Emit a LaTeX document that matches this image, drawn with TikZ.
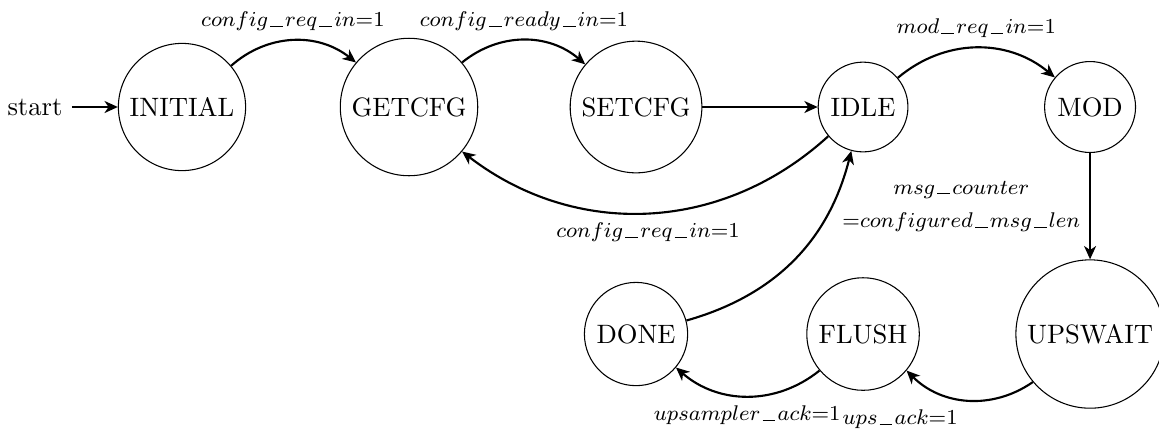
\documentclass[tikz,border=0pt]{standalone}
\usetikzlibrary{arrows.meta}
% long underscore used inside the italic signal names
\newcommand\us{\kern0.1em\rule[-0.05ex]{0.6em}{0.4pt}\kern0.1em}
\begin{document}
\begin{tikzpicture}[
  state/.style={circle,draw,thin},
  trans/.style={thick,-{Stealth[length=5pt,width=4.5pt,inset=1.5pt]}},
  lbl/.style={font=\footnotesize}
]
\useasboundingbox (-2.405,1.414) rectangle (12.911,-4.242);

% states
\node[state] (init)    at (0,0)   {INITIAL};
\node[state] (getcfg)  at (3,0)   {GETCFG};
\node[state] (setcfg)  at (6,0)   {SETCFG};
\node[state] (idle)    at (9,0)   {IDLE};
\node[state] (mod)     at (12,0)  {MOD};
\node[state] (done)    at (6,-3)  {DONE};
\node[state] (flush)   at (9,-3)  {FLUSH};
\node[state] (upswait) at (12,-3) {UPSWAIT};

% entry
\node (start) at (-1.943,0) {start};
\draw[trans] (start) -- (init);

% transitions
\draw[trans] (init) to[bend left=40]
  node[above,lbl] {$config\us req\us in$=1} (getcfg);
\draw[trans] (getcfg) to[bend left=40]
  node[above,lbl] {$config\us ready\us in$=1} (setcfg);
\draw[trans] (setcfg) -- (idle);
\draw[trans] (idle) to[bend left=40]
  node[below,lbl] {$config\us req\us in$=1} (getcfg);
\draw[trans] (idle) to[bend left=40]
  node[above,lbl] {$mod\us req\us in$=1} (mod);
\draw[trans] (mod) -- node[left,lbl,align=center]
  {$msg\us counter$\\[3pt]$=$$configured\us msg\us len$} (upswait);
\draw[trans] (upswait) to[bend left=40]
  node[below left,lbl] {$ups\us ack$=1} (flush);
\draw[trans] (flush) to[bend left=40]
  node[below,lbl] {$upsampler\us ack$=1} (done);
\draw[trans] (done) to[bend right=30] (idle);
\end{tikzpicture}
\end{document}
